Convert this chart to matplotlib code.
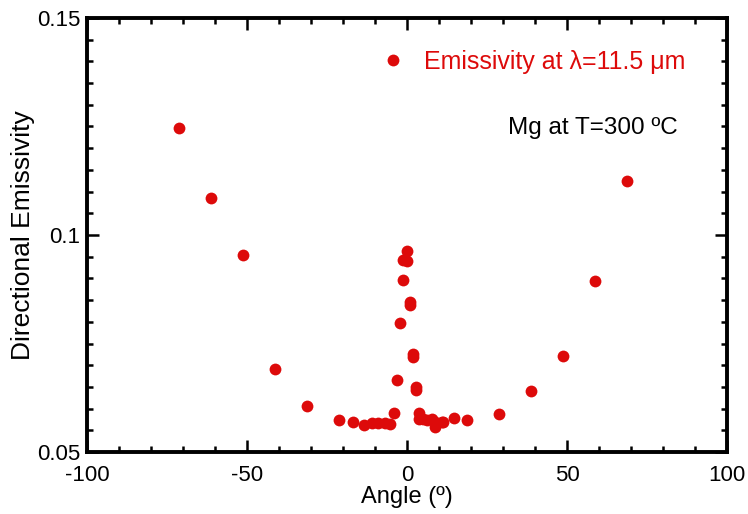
import matplotlib
matplotlib.use("Agg")
import matplotlib.pyplot as plt
from matplotlib.ticker import MultipleLocator

plt.rcParams['font.family'] = ['Liberation Sans', 'DejaVu Sans']

angles = [-71.2, -61.2, -51.2, -41.2, -31.2, -21.1, -17.0, -13.3, -11.0, -9.0, -6.9, -5.2,
          -4.2, -3.2, -2.2, -1.3, -1.1, 0.0, -0.1, 0.9, 1.0, 1.8, 1.8, 2.8, 2.8,
          3.6, 3.9, 4.9, 6.2, 7.7, 8.7, 8.7, 10.8, 11.1, 14.8, 18.6,
          28.8, 38.8, 48.8, 58.8, 68.8]
emissivity = [0.1247, 0.1085, 0.0954, 0.0691, 0.0605, 0.0573, 0.0570, 0.0562, 0.0567, 0.0567, 0.0566, 0.0564,
              0.0591, 0.0666, 0.0797, 0.0896, 0.0942, 0.0962, 0.0939, 0.0846, 0.0839, 0.0726, 0.0720, 0.0650, 0.0643,
              0.0590, 0.0575, 0.0577, 0.0574, 0.0575, 0.0570, 0.0558, 0.0570, 0.0569, 0.0578, 0.0574,
              0.0588, 0.0641, 0.0721, 0.0894, 0.1124]

x_ticks = [-100, -50, 0, 50, 100]
x_tick_labels = ['-100', '-50', '0', '50', '100']
y_ticks = [0.05, 0.1, 0.15]
y_tick_labels = ['0.05', '0.1', '0.15']

red = '#DD0A0A'

fig = plt.figure(figsize=(7.48, 5.14), dpi=100)
ax = fig.add_axes([0.1163, 0.1206, 0.8556, 0.8444])

ax.plot(angles, emissivity, 'o', color=red, markersize=8.5, markeredgewidth=0,
        label='Emissivity at \u03bb=11.5 \u03bcm')

ax.set_xlim(-100, 100)
ax.set_ylim(0.05, 0.15)
ax.xaxis.set_minor_locator(MultipleLocator(10))
ax.yaxis.set_minor_locator(MultipleLocator(0.005))
ax.set_xticks(x_ticks)
ax.set_xticklabels(x_tick_labels)
ax.set_yticks(y_ticks)
ax.set_yticklabels(y_tick_labels)

ax.tick_params(which='both', direction='in', top=True, right=True, width=1.8, labelsize=16)
ax.tick_params(axis='x', which='both', pad=9.5)
ax.tick_params(axis='y', which='both', pad=5)
ax.tick_params(which='major', length=8.5)
ax.tick_params(which='minor', length=4.5)
for s in ax.spines.values():
    s.set_linewidth(2.8)

ax.set_xlabel('Angle (\u00ba)', fontsize=17, labelpad=0)
ax.set_ylabel('Directional Emissivity', fontsize=19, labelpad=1)

leg = ax.legend(loc='center left', frameon=False, fontsize=18, handletextpad=0.75,
                borderaxespad=0, borderpad=0, handlelength=1.0,
                bbox_to_anchor=(0.459, 0.8986))
for t in leg.get_texts():
    t.set_color(red)

ax.text(0.658, 0.7327, 'Mg at T=300 \u00baC', transform=ax.transAxes, fontsize=17.5,
        ha='left', va='baseline', color='black')

fig.savefig('out.png', dpi=100)
